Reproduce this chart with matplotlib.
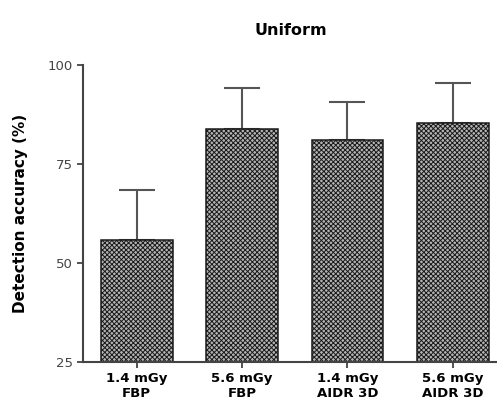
import numpy as np
import matplotlib.pyplot as plt

categories = ['1.4 mGy\nFBP', '5.6 mGy\nFBP', '1.4 mGy\nAIDR 3D', '5.6 mGy\nAIDR 3D']
means = [55.8, 83.8, 81.0, 85.3]
upper_err = [12.6, 10.3, 9.5, 10.2]

plt.rcParams['hatch.color'] = '#3a3a3a'
plt.rcParams['hatch.linewidth'] = 0.7

fig = plt.figure(figsize=(4.97, 4.05), dpi=100)
ax = fig.add_axes([0.167, 0.106, 0.833, 0.734])

x = np.arange(len(categories))
ax.bar(x, means, width=0.68, bottom=0, color='#b4b4b4', edgecolor='#1a1a1a',
       linewidth=1.1, hatch='xxxxxxx', zorder=2)
ax.errorbar(x, means, yerr=[np.zeros(len(means)), upper_err], fmt='none',
            ecolor='#555555', elinewidth=1.5, capsize=13, capthick=1.5, zorder=1)

ax.set_ylim(25, 100)
ax.set_xlim(-0.51, 3.42)
ax.set_yticks([25, 50, 75, 100])
ax.set_xticks(x)
ax.set_xticklabels(categories, fontweight='bold', fontsize=9.5)
ax.tick_params(axis='y', labelsize=9.5, labelcolor='#444444', length=4, width=1.3, color='#444444')
ax.tick_params(axis='x', length=4, width=1.3, color='#444444', pad=3)
for s in ['top', 'right']:
    ax.spines[s].set_visible(False)
for s in ['left', 'bottom']:
    ax.spines[s].set_linewidth(1.5)
    ax.spines[s].set_color('#444444')

ax.set_ylabel('Detection accuracy (%)', fontweight='bold', fontsize=11, labelpad=14)
fig.text(0.585, 0.925, 'Uniform', ha='center', va='center', fontweight='bold', fontsize=11.5)

fig.savefig('out.png', dpi=100)
